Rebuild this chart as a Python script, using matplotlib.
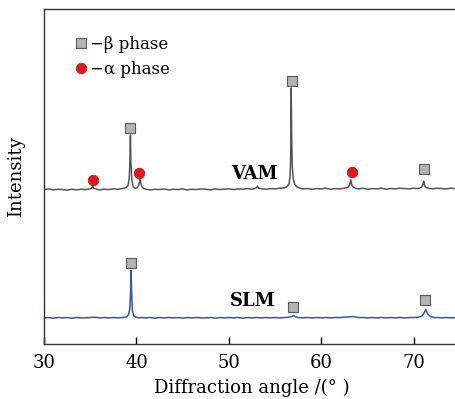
import matplotlib
matplotlib.use("Agg")
import matplotlib.pyplot as plt
from matplotlib.lines import Line2D

plt.rcParams.update({
    "font.family": ["DejaVu Serif"],
    "mathtext.fontset": "dejavuserif",
    "font.size": 12,
})

# VAM pattern (2theta, intensity in arbitrary units)
vam_x = [30.0, 30.5, 31.0, 31.5, 32.0, 32.5, 33.0, 33.5, 34.0, 34.5, 35.0,
         35.15, 35.27, 35.4, 35.7, 36.0, 36.5, 37.0, 37.5, 38.0, 38.5, 38.9,
         39.1, 39.22, 39.3, 39.35, 39.4, 39.5, 39.65, 39.85, 40.05, 40.22,
         40.32, 40.39, 40.47, 40.6, 40.8, 41.0, 41.5, 42.0, 42.5, 43.0,
         43.5, 44.0, 44.5, 45.0, 45.5, 46.0, 46.5, 47.0, 47.5, 48.0, 48.5,
         49.0, 49.5, 50.0, 50.5, 51.0, 51.5, 52.0, 52.5, 52.9, 53.08, 53.25,
         53.6, 54.0, 54.5, 55.0, 55.5, 56.0, 56.3, 56.5, 56.62, 56.69, 56.74,
         56.79, 56.86, 56.95, 57.1, 57.35, 57.7, 58.0, 58.5, 59.0, 59.5,
         60.0, 60.5, 61.0, 61.5, 62.0, 62.5, 62.9, 63.08, 63.19, 63.3,
         63.5, 63.8, 64.0, 64.5, 65.0, 65.5, 66.0, 66.5, 67.0, 67.5, 68.0,
         68.5, 69.0, 69.5, 70.0, 70.5, 70.8, 70.98, 71.07, 71.12, 71.2,
         71.35, 71.6, 72.0, 72.5, 73.0, 73.5, 74.0, 74.5, 75.0]
vam_y = [46.1, 46.3, 46.0, 46.2, 46.1, 45.9, 46.2, 46.0, 46.2, 46.1, 46.3,
         46.6, 47.0, 46.5, 46.2, 46.0, 46.2, 46.1, 46.3, 46.2, 46.4, 46.7,
         47.4, 49.5, 55.0, 62.4, 54.5, 49.0, 47.0, 46.5, 46.6, 47.2,
         48.3, 49.6, 48.0, 46.9, 46.4, 46.2, 46.0, 46.2, 46.1, 46.3,
         46.0, 46.2, 46.1, 46.3, 46.0, 46.2, 46.1, 46.3, 46.2, 46.0, 46.3,
         46.1, 46.2, 46.3, 46.1, 46.3, 46.2, 46.4, 46.2, 46.5, 47.1, 46.5,
         46.3, 46.2, 46.4, 46.3, 46.5, 46.6, 47.0, 47.8, 50.0, 56.0, 76.4,
         62.0, 53.0, 49.5, 47.8, 46.9, 46.5, 46.3, 46.4, 46.2, 46.4,
         46.3, 46.5, 46.2, 46.4, 46.3, 46.5, 46.8, 47.8, 49.0, 47.4,
         46.7, 46.4, 46.3, 46.5, 46.2, 46.4, 46.3, 46.5, 46.2, 46.4, 46.3,
         46.5, 46.4, 46.3, 46.5, 46.4, 46.7, 47.4, 48.6, 48.0, 47.2,
         46.7, 46.5, 46.3, 46.5, 46.4, 46.3, 46.5, 46.4, 46.4]

# SLM pattern
slm_x = [30.0, 30.5, 31.0, 31.5, 32.0, 32.5, 33.0, 33.5, 34.0, 34.5, 35.0,
         35.5, 36.0, 36.5, 37.0, 37.5, 38.0, 38.5, 38.9, 39.15, 39.28, 39.36,
         39.42, 39.48, 39.56, 39.7, 39.95, 40.3, 40.5, 41.0, 41.5, 42.0, 42.5,
         43.0, 43.5, 44.0, 44.5, 45.0, 45.5, 46.0, 46.5, 47.0, 47.5, 48.0,
         48.5, 49.0, 49.5, 50.0, 50.5, 51.0, 51.5, 52.0, 52.5, 53.0, 53.5,
         54.0, 54.5, 55.0, 55.5, 56.0, 56.5, 56.8, 57.0, 57.2, 57.5, 58.0,
         58.5, 59.0, 59.5, 60.0, 60.5, 61.0, 61.5, 62.0, 62.5, 63.0, 63.4,
         63.8, 64.0, 64.5, 65.0, 65.5, 66.0, 66.5, 67.0, 67.5, 68.0, 68.5,
         69.0, 69.5, 70.0, 70.5, 70.9, 71.1, 71.3, 71.5, 71.8, 72.2, 72.5,
         73.0, 73.5, 74.0, 74.5, 75.0]
slm_y = [7.8, 7.9, 7.7, 7.9, 7.8, 7.9, 7.7, 7.9, 7.8, 7.8, 7.9,
         8.0, 7.8, 7.9, 7.8, 7.9, 7.8, 7.9, 8.1, 8.7, 10.5, 15.0,
         21.9, 15.5, 10.0, 8.4, 8.0, 7.8, 7.9, 7.8, 7.9, 7.7, 7.9,
         7.8, 7.9, 7.8, 7.9, 7.7, 7.9, 7.8, 7.9, 7.8, 7.8, 7.9,
         7.7, 7.9, 7.8, 7.9, 7.8, 7.9, 7.7, 7.9, 7.8, 7.9, 7.8,
         7.9, 7.8, 7.9, 7.8, 7.9, 8.0, 8.2, 8.5, 8.1, 7.9, 7.8,
         7.9, 7.8, 7.9, 7.8, 7.9, 7.8, 7.9, 7.9, 8.0, 8.1, 8.2,
         8.0, 7.9, 7.9, 7.8, 7.9, 7.8, 7.9, 7.8, 7.9, 7.8, 7.9,
         7.8, 7.9, 7.9, 8.0, 8.4, 9.2, 10.3, 9.0, 8.2, 7.9, 7.9,
         7.8, 7.9, 7.8, 7.9, 7.8]

# phase markers (position, height)
vam_beta_x = [39.3, 56.8, 71.1]
vam_beta_y = [64.5, 78.6, 52.3]
vam_alpha_x = [35.25, 40.3, 63.3]
vam_alpha_y = [49.0, 51.1, 51.4]
slm_beta_x = [39.4, 56.95, 71.25]
slm_beta_y = [24.3, 10.9, 13.1]

xticks = [30, 40, 50, 60, 70]

GRAY_LINE = "#555555"
BLUE_LINE = "#2f56b8"
SQ_FACE = "#b3b3b3"
SQ_EDGE = "#5a5a5a"
RED = "#e3161c"

sq_style = dict(linestyle="none", marker="s", markersize=7.2,
                markerfacecolor=SQ_FACE, markeredgecolor=SQ_EDGE,
                markeredgewidth=0.8)
ci_style = dict(linestyle="none", marker="o", markersize=7.6,
                markerfacecolor=RED, markeredgecolor="#b01010",
                markeredgewidth=0.5)

fig = plt.figure(figsize=(4.56, 3.99), dpi=100)
ax = fig.add_axes([44 / 456, 55 / 399, 416 / 456, 335 / 399])

ax.plot(vam_x, vam_y, color=GRAY_LINE, lw=1.1)
ax.plot(slm_x, slm_y, color=BLUE_LINE, lw=1.1)

ax.plot(vam_beta_x, vam_beta_y, **sq_style)
ax.plot(slm_beta_x, slm_beta_y, **sq_style)
ax.plot(vam_alpha_x, vam_alpha_y, **ci_style)

ax.text(52.8, 50.6, "VAM", fontsize=13, fontweight="bold",
        ha="center", va="center")
ax.text(52.6, 12.7, "SLM", fontsize=13, fontweight="bold",
        ha="center", va="center")

handles = [Line2D([], [], **sq_style), Line2D([], [], **ci_style)]
ax.legend(handles, ["\u2212\u03b2 phase", "\u2212\u03b1 phase"],
          loc="upper left", bbox_to_anchor=(0.052, 0.945), frameon=False,
          handlelength=0.8, handletextpad=0.15, labelspacing=0.5,
          borderpad=0, fontsize=12)

ax.set_xlim(30, 75)
ax.set_ylim(0, 100)
ax.set_xticks(xticks)
ax.set_yticks([])
ax.tick_params(axis="x", direction="in", length=5, width=1, pad=7,
               labelsize=13, top=False)
for s in ax.spines.values():
    s.set_linewidth(1.0)
    s.set_color("#333333")
ax.spines["right"].set_visible(False)

ax.set_xlabel("Diffraction angle /(\u00b0 )", fontsize=13, labelpad=5)
ax.set_ylabel("Intensity", fontsize=13, labelpad=14)

fig.savefig("out.png", dpi=100)
